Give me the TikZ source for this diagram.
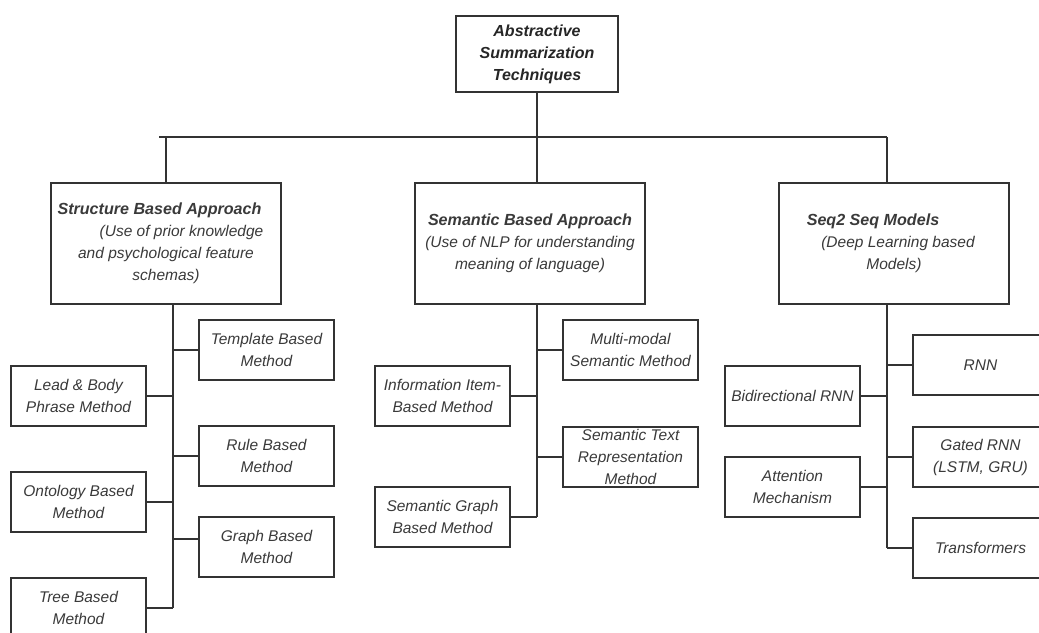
\documentclass[tikz,border=0pt]{standalone}
\usepackage{fontspec}
\setmainfont{Liberation Sans}
\definecolor{ln}{HTML}{333333}
\definecolor{tx}{HTML}{3A3A3A}
\newcommand\hdfont{\fontsize{16.1}{22}\selectfont\bfseries\itshape}
\begin{document}
\begin{tikzpicture}[x=1pt,y=-1pt,
  box/.style={draw=ln,line width=1.6pt,fill=white,inner sep=0pt,align=center,
    font=\fontsize{15.5}{22}\selectfont\itshape,text=tx},
  leaf/.style={box,minimum width=135pt,minimum height=60pt},
  head/.style={box,minimum width=230pt,minimum height=121pt},
  link/.style={draw=ln,line width=1.6pt}]
\clip (0,0) rectangle (1039,632);
\fill[white] (0,0) rectangle (1039,632);

% root
\node[box,minimum width=162pt,minimum height=76pt,font=\fontsize{16}{22}\selectfont\bfseries\itshape,text=black!85] (root) at (537,54)
  {Abstractive\\Summarization\\Techniques};

% level 1
\node[head] (str) at (166,243.5)
  {{\hdfont Structure Based Approach}\hspace*{13pt}\\\hspace*{31pt}(Use of prior knowledge\\and psychological feature\\schemas)};
\node[head] (sem) at (530,243.5)
  {{\hdfont Semantic Based Approach}\\(Use of NLP for understanding\\meaning of language)};
\node[head] (seq) at (894,243.5)
  {{\hdfont Seq2 Seq Models}\hspace*{42pt}\\\hspace*{8pt}(Deep Learning based\\Models)};

% bus
\coordinate (busL) at (159,137);
\coordinate (busR) at (887,137);
\draw[link] (root.south) -- (root.south |- busL);
\draw[link] (busL) -- (busR);
\draw[link] (str.north |- busL) -- (str.north);
\draw[link] (sem.north -| root.south) -- (root.south |- busL);
\draw[link] (busR) -- (busR |- seq.north);

% structure children
\node[leaf] (lead) at (78.5,396) {Lead \& Body\\Phrase Method};
\node[leaf] (onto) at (78.5,502) {Ontology Based\\Method};
\node[leaf] (tree) at (78.5,608) {Tree Based\\Method};
\node[leaf] (templ) at (266.5,350) {Template Based\\Method};
\node[leaf] (rule) at (266.5,456) {Rule Based\\Method};
\node[leaf] (graph) at (266.5,547) {Graph Based\\Method};
\coordinate (sT) at (173,304);
\coordinate (sB) at (173,608);
\draw[link] (sT) -- (sB);
\draw[link] (lead.east) -- (lead.east -| sT);
\draw[link] (onto.east) -- (onto.east -| sT);
\draw[link] (tree.east) -- (tree.east -| sT);
\draw[link] (templ.west) -- (templ.west -| sT);
\draw[link] (rule.west) -- (rule.west -| sT);
\draw[link] ([yshift=8pt]graph.west) -- ([yshift=8pt]graph.west -| sT);

% semantic children
\node[leaf] (info) at (442.5,396) {Information Item-\\Based Method};
\node[leaf] (sgraph) at (442.5,517) {Semantic Graph\\Based Method};
\node[leaf] (multi) at (630.5,350) {Multi-modal\\Semantic Method};
\node[leaf] (stext) at (630.5,457) {Semantic Text\\Representation\\Method};
\coordinate (mT) at (537,304);
\draw[link] (mT) -- (mT |- sgraph.east);
\draw[link] (info.east) -- (info.east -| mT);
\draw[link] (sgraph.east) -- (sgraph.east -| mT);
\draw[link] (multi.west) -- (multi.west -| mT);
\draw[link] (stext.west) -- (stext.west -| mT);

% seq2seq children
\node[leaf] (rnn) at (980.5,365) {RNN};
\node[leaf] (bidir) at (792.5,396) {Bidirectional RNN};
\node[leaf] (gated) at (980.5,457) {Gated RNN\\(LSTM, GRU)};
\node[leaf] (attn) at (792.5,487) {Attention\\Mechanism};
\node[leaf] (trans) at (980.5,548) {Transformers};
\coordinate (qT) at (887,304);
\draw[link] (qT) -- (qT |- trans.west);
\draw[link] (rnn.west) -- (rnn.west -| qT);
\draw[link] (bidir.east) -- (bidir.east -| qT);
\draw[link] (gated.west) -- (gated.west -| qT);
\draw[link] (attn.east) -- (attn.east -| qT);
\draw[link] (trans.west) -- (trans.west -| qT);
\end{tikzpicture}
\end{document}
